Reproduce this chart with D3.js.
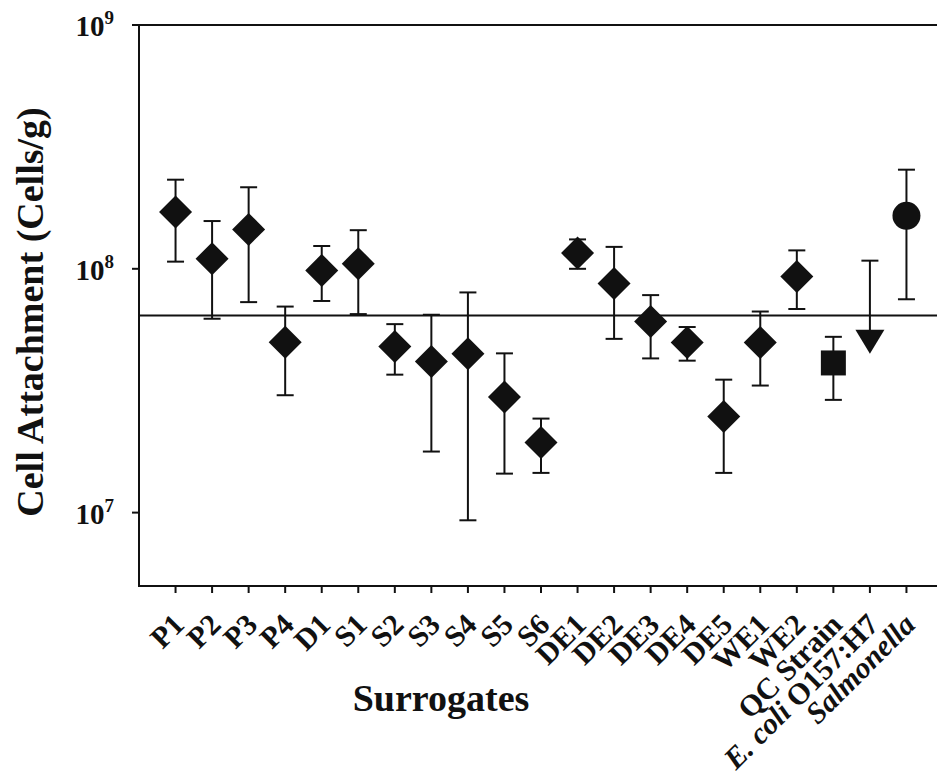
<!DOCTYPE html>
<html>
<head>
<meta charset="utf-8">
<script src="https://cdn.jsdelivr.net/npm/d3@7"></script>
<style>
  body { margin: 0; background: #fff; }
  svg { display: block; }
  text { font-family: "Liberation Serif", "Times New Roman", serif; font-weight: bold; fill: #111; }
</style>
</head>
<body>
<svg></svg>
<script>
// Categories along the x axis
const categories = ["P1", "P2", "P3", "P4", "D1", "S1", "S2", "S3", "S4", "S5", "S6",
  "DE1", "DE2", "DE3", "DE4", "DE5", "WE1", "WE2", "QC Strain", "E. coli O157:H7", "Salmonella"];

// Mean attachment (cells/g) and error bar ends
const means = [1.71e8, 1.10e8, 1.45e8, 5.0e7, 9.85e7, 1.05e8, 4.8e7, 4.17e7, 4.48e7, 2.98e7, 1.94e7,
  1.16e8, 8.7e7, 6.08e7, 4.99e7, 2.48e7, 4.99e7, 9.3e7, 4.11e7, 5.12e7, 1.65e8];
const upper = [2.32e8, 1.57e8, 2.16e8, 7.0e7, 1.24e8, 1.44e8, 5.93e7, 6.48e7, 8.0e7, 4.5e7, 2.43e7,
  1.32e8, 1.23e8, 7.8e7, 5.77e7, 3.51e7, 6.68e7, 1.19e8, 5.26e7, 1.08e8, 2.55e8];
const lower = [1.07e8, 6.24e7, 7.3e7, 3.03e7, 7.38e7, 6.52e7, 3.68e7, 1.78e7, 9.3e6, 1.445e7, 1.455e7,
  1.0e8, 5.16e7, 4.29e7, 4.2e7, 1.455e7, 3.32e7, 6.84e7, 2.9e7, 5.12e7, 7.5e7];

// Marker type for each category
const markers = ["diamond", "diamond", "diamond", "diamond", "diamond", "diamond", "diamond", "diamond",
  "diamond", "diamond", "diamond", "diamond", "diamond", "diamond", "diamond", "diamond", "diamond",
  "diamond", "square", "triangle", "circle"];

// Reference line level
const refLevel = 6.44e7;

// Y axis ticks
const yTicks = [1e7, 1e8, 1e9];
const yTickExp = ["7", "8", "9"];

const W = 937, H = 777;
const margin = { l: 139, r: -6, t: 25, b: 191 };
const width = W - margin.l - margin.r;
const height = H - margin.t - margin.b;

const svg = d3.select("svg").attr("width", W).attr("height", H);
const g = svg.append("g").attr("transform", `translate(${margin.l}, ${margin.t})`);

const x = d3.scalePoint().domain(categories).range([0, width]).padding(1);
const y = d3.scaleLog().domain([5e6, 1e9]).range([height, 0]);

const data = categories.map((c, i) => ({ c, m: means[i], hi: upper[i], lo: lower[i], mk: markers[i] }));

// frame: left, top, bottom
g.append("path")
  .attr("d", `M${width},0H0V${height}H${width}`)
  .attr("fill", "none").attr("stroke", "#111").attr("stroke-width", 2);

// y ticks
g.selectAll(".ytick").data(yTicks).enter().append("line")
  .attr("x1", -7).attr("x2", 0)
  .attr("y1", d => y(d)).attr("y2", d => y(d))
  .attr("stroke", "#111").attr("stroke-width", 2);

const yl = g.selectAll(".ylab").data(yTicks).enter().append("text")
  .attr("x", -25).attr("y", d => y(d) + 11)
  .attr("text-anchor", "end")
  .style("font-size", "29px");
yl.append("tspan").text("10");
yl.append("tspan").attr("dy", -12).style("font-size", "19px").text((d, i) => yTickExp[i]);

// x ticks
g.selectAll(".xtick").data(categories).enter().append("line")
  .attr("x1", d => x(d)).attr("x2", d => x(d))
  .attr("y1", height).attr("y2", height + 7)
  .attr("stroke", "#111").attr("stroke-width", 2);

// x tick labels, rotated
const xl = g.selectAll(".xlab").data(categories).enter().append("text")
  .attr("text-anchor", "end")
  .attr("transform", d => `translate(${x(d) + 3}, ${height + 33}) rotate(-45)`)
  .attr("dy", "0.35em")
  .style("font-size", "30px");
xl.each(function(d) {
  const t = d3.select(this);
  if (d === "E. coli O157:H7") {
    t.append("tspan").style("font-style", "italic").text("E. coli");
    t.append("tspan").text(" O157:H7");
  } else if (d === "Salmonella") {
    t.append("tspan").style("font-style", "italic").text("Salmonella");
  } else {
    t.text(d);
  }
});

// reference line
g.append("line")
  .attr("x1", 0).attr("x2", width)
  .attr("y1", y(refLevel)).attr("y2", y(refLevel))
  .attr("stroke", "#111").attr("stroke-width", 2);

// error bars
const eb = g.selectAll(".eb").data(data).enter().append("g");
eb.append("line")
  .attr("x1", d => x(d.c)).attr("x2", d => x(d.c))
  .attr("y1", d => y(d.hi)).attr("y2", d => y(d.lo))
  .attr("stroke", "#111").attr("stroke-width", 2);
eb.append("line")
  .attr("x1", d => x(d.c) - 8.5).attr("x2", d => x(d.c) + 8.5)
  .attr("y1", d => y(d.hi)).attr("y2", d => y(d.hi))
  .attr("stroke", "#111").attr("stroke-width", 2);
eb.filter(d => d.lo < d.m).append("line")
  .attr("x1", d => x(d.c) - 8.5).attr("x2", d => x(d.c) + 8.5)
  .attr("y1", d => y(d.lo)).attr("y2", d => y(d.lo))
  .attr("stroke", "#111").attr("stroke-width", 2);

// markers
const shape = {
  diamond: "M0,-16.5L16.5,0L0,16.5L-16.5,0Z",
  square: "M-12.5,-12.5H12.5V12.5H-12.5Z",
  triangle: "M-14.5,-10H14.5L0,14Z",
  circle: d3.symbol(d3.symbolCircle, Math.PI * 14 * 14)()
};
g.selectAll(".mk").data(data).enter().append("path")
  .attr("transform", d => `translate(${x(d.c)}, ${y(d.m)})`)
  .attr("d", d => shape[d.mk])
  .attr("fill", "#111");

// axis titles
svg.append("text")
  .attr("transform", `translate(43, ${margin.t + 287}) rotate(-90)`)
  .attr("text-anchor", "middle")
  .style("font-size", "38px")
  .text("Cell Attachment (Cells/g)");

svg.append("text")
  .attr("x", 441).attr("y", 711)
  .attr("text-anchor", "middle")
  .style("font-size", "38px")
  .text("Surrogates");
</script>
</body>
</html>
